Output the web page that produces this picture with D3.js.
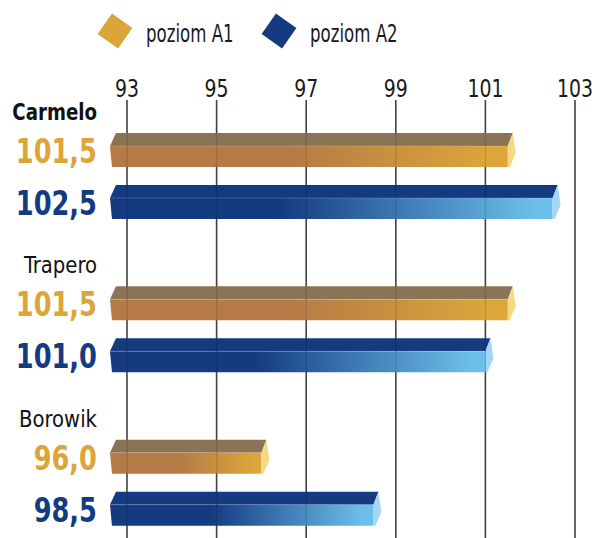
<!DOCTYPE html>
<html>
<head>
<meta charset="utf-8">
<script src="https://cdn.jsdelivr.net/npm/d3@7"></script>
<style>
  body { margin: 0; background: #fff; }
  svg { display: block; font-family: "DejaVu Sans", sans-serif; font-stretch: condensed; }
</style>
</head>
<body>
<svg id="chart"></svg>
<script>
// data
const categories = ["Carmelo", "Trapero", "Borowik"];
const seriesNames = ["poziom A1", "poziom A2"];
const valuesA1 = [101.5, 101.5, 96.0];
const valuesA2 = [102.5, 101.0, 98.5];
const tickValues = [93, 95, 97, 99, 101, 103];
const barBase = 92.62;   // bars start a bit left of the first gridline

var width = 592,
    height = 538;

const colors = {
    A1: { label: "#dca53a", top: "#8b7355", dark: "#b57a45", light: "#dca63a", cap: "#f6d984" },
    A2: { label: "#143a7f", top: "#143a80", dark: "#143a80", light: "#6bbfea", cap: "#a3d6f5" }
};

const svg = d3.select("#chart").attr("width", width).attr("height", height);

// narrow the condensed font a bit more, like the original typeface
function squeeze(sel, sx) {
    sel.attr("transform", function() {
        const t = d3.select(this);
        return "translate(" + t.attr("x") + "," + t.attr("y") + ") scale(" + sx + ",1)";
    }).attr("x", 0).attr("y", 0);
}

const defs = svg.append("defs");
["A1", "A2"].forEach(function(k) {
    const g = defs.append("linearGradient").attr("id", "grad" + k)
        .attr("x1", "0%").attr("x2", "100%").attr("y1", "0%").attr("y2", "0%");
    g.append("stop").attr("offset", k === "A1" ? "45%" : "38%").attr("stop-color", colors[k].dark);
    g.append("stop").attr("offset", "96%").attr("stop-color", colors[k].light);
});

let x = d3.scaleLinear().domain([93, 103]).range([127, 575]);
let y = d3.scaleBand().domain(categories).range([91, 551]);
let sub = d3.scaleBand().domain(["A1", "A2"]).range([42, 146]);

const topDepth = 13, frontH = 21, shift = 5;

// gridlines below
svg.append("g").selectAll("line")
    .data(tickValues)
    .enter()
    .append("line")
    .attr("x1", d => x(d)).attr("x2", d => x(d))
    .attr("y1", 100).attr("y2", height)
    .attr("stroke", "#4d4d4d")
    .attr("stroke-width", 1.6);

// tick labels
svg.append("g").selectAll("text")
    .data(tickValues)
    .enter()
    .append("text")
    .attr("x", d => x(d))
    .attr("y", 97)
    .attr("text-anchor", "middle")
    .attr("font-size", 25)
    .attr("fill", "#1a1a1a")
    .text(d => d)
    .call(squeeze, 0.84);

// legend
const legend = svg.append("g");
const legendX = [115, 279];
seriesNames.forEach(function(name, i) {
    const k = i === 0 ? "A1" : "A2";
    legend.append("rect")
        .attr("x", -12.5).attr("y", -12.5).attr("width", 25).attr("height", 25)
        .attr("transform", "translate(" + legendX[i] + ",31) rotate(35)")
        .attr("fill", colors[k].label);
    legend.append("text")
        .attr("x", legendX[i] + 31)
        .attr("y", 42)
        .attr("font-size", 24)
        .attr("fill", "#1a1a1a")
        .text(name)
        .call(squeeze, 0.77);
});

const rows = [];
categories.forEach(function(c, i) {
    rows.push({ cat: c, key: "A1", value: valuesA1[i] });
    rows.push({ cat: c, key: "A2", value: valuesA2[i] });
});

// category labels
svg.append("g").selectAll("text")
    .data(categories)
    .enter()
    .append("text")
    .attr("x", 97)
    .attr("y", d => y(d) + 29)
    .attr("text-anchor", "end")
    .attr("font-size", 23)
    .attr("font-weight", (d, i) => i === 0 ? "bold" : "normal")
    .attr("fill", "#111")
    .text(d => d)
    .each(function(d, i) { squeeze(d3.select(this), i === 0 ? 0.88 : 0.95); });

// bars
const bars = svg.append("g").selectAll("g")
    .data(rows)
    .enter()
    .append("g")
    .attr("transform", d => "translate(0," + (y(d.cat) + sub(d.key)) + ")");

bars.append("path")   // top face
    .attr("d", function(d) {
        const x0 = x(barBase), x1 = x(d.value);
        return "M" + x0 + "," + topDepth + "L" + (x0 + shift + 1) + ",0L" + (x1 + shift) + ",0L" + x1 + "," + topDepth + "Z";
    })
    .attr("fill", d => colors[d.key].top);

bars.append("path")   // front face
    .attr("d", function(d) {
        const x0 = x(barBase), x1 = x(d.value);
        return "M" + x0 + "," + topDepth + "L" + x1 + "," + topDepth + "L" + x1 + "," + (topDepth + frontH) +
            "L" + (x0 + 2) + "," + (topDepth + frontH) + "Z";
    })
    .attr("fill", d => "url(#grad" + d.key + ")");

bars.append("line")   // faint edge highlight
    .attr("x1", d => x(barBase)).attr("x2", d => x(d.value))
    .attr("y1", topDepth).attr("y2", topDepth)
    .attr("stroke", "#fff").attr("stroke-opacity", 0.18).attr("stroke-width", 1);

bars.append("path")   // right end cap
    .attr("d", function(d) {
        const x1 = x(d.value);
        return "M" + x1 + "," + topDepth + "L" + (x1 + shift) + ",0L" + (x1 + shift + 3) + "," + (topDepth + 7) +
            "L" + (x1 + 2) + "," + (topDepth + frontH) + "L" + x1 + "," + (topDepth + frontH) + "Z";
    })
    .attr("fill", d => colors[d.key].cap);

// value labels
bars.append("text")
    .attr("x", 97)
    .attr("y", 30)
    .attr("text-anchor", "end")
    .attr("font-size", 34)
    .attr("font-weight", "bold")
    .attr("fill", d => colors[d.key].label)
    .text(d => d3.format(".1f")(d.value).replace(".", ","))
    .call(squeeze, 0.84);

// gridlines faintly over the bars
svg.append("g").selectAll("line")
    .data(tickValues)
    .enter()
    .append("line")
    .attr("x1", d => x(d)).attr("x2", d => x(d))
    .attr("y1", 100).attr("y2", height)
    .attr("stroke", "#000")
    .attr("stroke-opacity", 0.12)
    .attr("stroke-width", 1.4);
</script>
</body>
</html>
